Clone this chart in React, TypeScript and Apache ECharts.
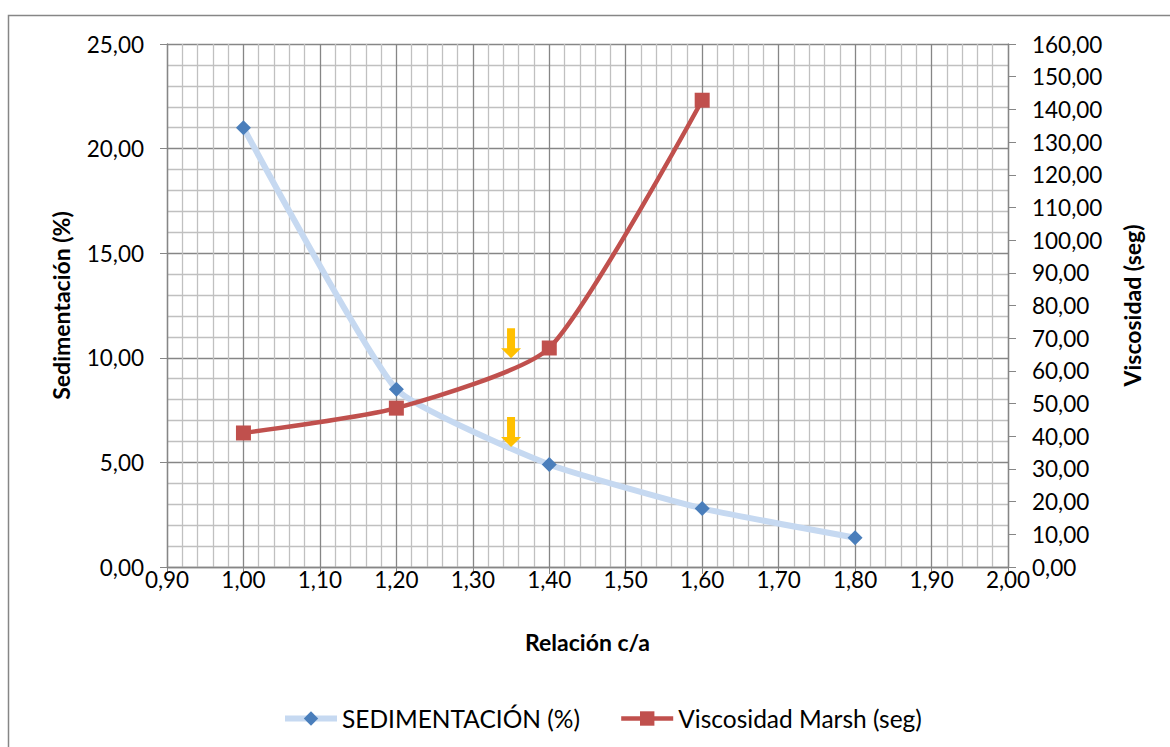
import React, { useEffect, useRef } from "react";
import * as echarts from "echarts";

// Relación c/a values and the two measured series
const relacion = [1.0, 1.2, 1.4, 1.6, 1.8];
const sedimentacion = [21.0, 8.5, 4.9, 2.8, 1.4];
const relacionVisc = [1.0, 1.2, 1.4, 1.6];
const viscosidad = [41.0, 48.6, 67.0, 142.8];

// Yellow arrow annotations: [x, sedimentación-axis value at arrow centre]
const flechas = [
  [1.35, 10.7],
  [1.35, 6.45],
];

const fmt = (v: number) => v.toFixed(2).replace(".", ",");

const FONT = "Lato, 'Noto Sans', sans-serif";
const ARROW =
  "path://M6,0 L14,0 L14,20 L20,20 L10,30 L0,20 L6,20 Z";

export default function App() {
  const ref = useRef<HTMLDivElement>(null);

  useEffect(() => {
    if (!ref.current) return;
    const chart = echarts.init(ref.current, undefined, { renderer: "svg" });

    const axisLine = { show: true, lineStyle: { color: "#868686", width: 1.3 } };
    const label = { color: "#000", fontSize: 22.5, fontFamily: FONT };
    const title = { fontSize: 23, fontWeight: "bold", color: "#000", fontFamily: FONT };

    chart.setOption({
      animation: false,
      backgroundColor: "#fff",
      textStyle: { fontFamily: FONT },
      graphic: [
        {
          type: "rect",
          shape: { x: 8.5, y: 15.5, width: 1300, height: 900 },
          style: { fill: "none", stroke: "#868686", lineWidth: 1.5 },
          silent: true,
          z: -10,
        },
      ],
      grid: { left: 167, right: 162, top: 44, bottom: 180, containLabel: false },
      legend: {
        top: 701,
        left: 277,
        itemWidth: 52,
        itemHeight: 18,
        itemGap: 39,
        lineStyle: { width: "inherit" },
        textStyle: { fontSize: 24.5, color: "#000", fontFamily: FONT },
        data: [
          { name: "SEDIMENTACIÓN (%)" },
          { name: "Viscosidad Marsh (seg)" },
        ],
      },
      xAxis: {
        type: "value",
        min: 0.9,
        max: 2.0,
        interval: 0.1,
        name: "Relación c/a",
        nameLocation: "middle",
        nameGap: 63,
        nameTextStyle: title,
        axisLine,
        axisTick: { show: true, length: 7, lineStyle: { color: "#868686" } },
        axisLabel: { ...label, margin: 1, formatter: (v: number) => fmt(v) },
        splitLine: { show: true, lineStyle: { color: "#868686", width: 1.3 } },
        minorTick: { show: false, splitNumber: 5 },
        minorSplitLine: { show: true, lineStyle: { color: "#c0c0c0", width: 1.3 } },
      },
      yAxis: [
        {
          type: "value",
          min: 0,
          max: 25,
          interval: 5,
          name: "Sedimentación (%)",
          nameLocation: "middle",
          nameGap: 95,
          nameRotate: 90,
          nameTextStyle: title,
          axisLine,
          axisTick: { show: true, length: 7, lineStyle: { color: "#868686" } },
          axisLabel: { ...label, margin: 23, formatter: (v: number) => fmt(v) },
          splitLine: { show: true, lineStyle: { color: "#868686", width: 1.3 } },
          minorTick: { show: false, splitNumber: 5 },
          minorSplitLine: { show: true, lineStyle: { color: "#c0c0c0", width: 1.3 } },
        },
        {
          type: "value",
          min: 0,
          max: 160,
          interval: 10,
          position: "right",
          name: "Viscosidad (seg)",
          nameLocation: "middle",
          nameGap: 112,
          nameRotate: 90,
          nameTextStyle: title,
          axisLine,
          axisTick: { show: true, length: 8, lineStyle: { color: "#868686" } },
          axisLabel: { ...label, margin: 24, formatter: (v: number) => fmt(v) },
          splitLine: { show: false },
        },
      ],
      series: [
        {
          name: "SEDIMENTACIÓN (%)",
          type: "line",
          yAxisIndex: 0,
          smooth: 0.15,
          data: relacion.map((x, i) => [x, sedimentacion[i]]),
          symbol: "diamond",
          symbolSize: 15,
          itemStyle: { color: "#4a7ebb" },
          lineStyle: { color: "#c6d9f1", width: 6 },
          z: 3,
          markPoint: {
            symbol: ARROW,
            symbolSize: [20, 30],
            itemStyle: { color: "#ffc000" },
            label: { show: false },
            data: flechas.map(([x, y]) => ({ coord: [x, y] })),
            z: 6,
          },
        },
        {
          name: "Viscosidad Marsh (seg)",
          type: "line",
          yAxisIndex: 1,
          smooth: 0.2,
          data: relacionVisc.map((x, i) => [x, viscosidad[i]]),
          symbol: "rect",
          symbolSize: 15,
          itemStyle: { color: "#c0504d" },
          lineStyle: { color: "#c0504d", width: 4.5 },
          z: 4,
        },
      ],
    });

    return () => chart.dispose();
  }, []);

  return (
    <div
      ref={ref}
      style={{ position: "fixed", left: 0, top: 0, width: 1170, height: 747 }}
    />
  );
}
